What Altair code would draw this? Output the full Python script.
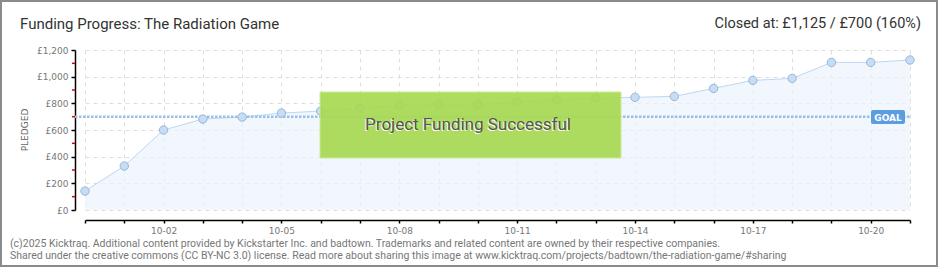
import json
import altair as alt
import pandas as pd

# ---------------- data ----------------
dates = ["09-30", "10-01", "10-02", "10-03", "10-04", "10-05", "10-06", "10-07",
         "10-08", "10-09", "10-10", "10-11", "10-12", "10-13", "10-14", "10-15",
         "10-16", "10-17", "10-18", "10-19", "10-20", "10-21"]
pledged = [142, 330, 600, 682, 697, 727, 742, 762, 785, 790, 788, 810,
           825, 840, 845, 852, 912, 972, 987, 1107, 1107, 1125]
goal = 700
x_labels = ["10-02", "10-05", "10-08", "10-11", "10-14", "10-17", "10-20"]
y_ticks = [0, 200, 400, 600, 800, 1000, 1200]
y_minor = [100, 300, 500, 700, 900, 1100]

title_left = "Funding Progress: The Radiation Game"
title_right = "Closed at:  £1,125 /  £700 (160%)"
axis_title = "PLEDGED"
success_text = "Project Funding Successful"
goal_text = "GOAL"
footer1 = ("(c)2025 Kicktraq. Additional content provided by Kickstarter Inc. and badtown. "
           "Trademarks and related content are owned by their respective companies.")
footer2 = ("Shared under the creative commons (CC BY-NC 3.0) license. Read more about sharing "
           "this image at www.kicktraq.com/projects/badtown/the-radiation-game/#sharing")

df = pd.DataFrame({"date": dates, "pledged": pledged})

W, H = 825, 160
FONT = "Roboto"

x_axis = alt.Axis(
    title=None,
    labelExpr="indexof(" + json.dumps(x_labels) + ", datum.value) >= 0 ? datum.value : ''",
    labelAngle=0,
    labelOverlap=False,
    offset=10,
    tickSize=3,
    tickColor="#000",
    tickWidth=1.5,
    domainColor="#000",
    domainWidth=1.5,
    labelColor="#777",
    labelFontSize=9,
    labelFont="DejaVu Sans",
    labelPadding=3,
    grid=True,
    gridDash=[4, 4],
    gridColor="#dedede",
)
y_axis = alt.Axis(
    title=None,
    values=y_ticks,
    tickCount=7,
    labelExpr="'£' + format(datum.value, ',')",
    labelOverlap=False,
    offset=10,
    tickSize=4,
    tickColor="#000",
    tickWidth=1.5,
    domainColor="#000",
    domainWidth=1.5,
    labelColor="#777",
    labelFontSize=9,
    labelFont="DejaVu Sans",
    labelPadding=3,
    grid=True,
    gridDash=[4, 4],
    gridColor="#dedede",
)
x_scale = alt.Scale(type="point", padding=0, domain=dates)
y_scale = alt.Scale(domain=[0, 1200], nice=False)

base = alt.Chart(df)

area = base.mark_area(color="#edf4fc", line={"color": "#bcd7f3", "strokeWidth": 1}).encode(
    x=alt.X("date:O", scale=x_scale, axis=x_axis),
    y=alt.Y("pledged:Q", scale=y_scale, axis=y_axis),
)

goal_line = alt.Chart(pd.DataFrame({"goal": [goal]})).mark_rule(
    color="#9cbfe8", strokeWidth=2.5, strokeDash=[2.5, 1.5]
).encode(y=alt.Y("goal:Q", scale=y_scale, axis=y_axis), x=alt.value(-10), x2=alt.value(W))

points = base.mark_circle(size=70, color="#c6ddf6", stroke="#98b5d4", strokeWidth=1, opacity=1).encode(
    x=alt.X("date:O", scale=x_scale, axis=x_axis),
    y=alt.Y("pledged:Q", scale=y_scale, axis=y_axis),
)

minor = alt.Chart(pd.DataFrame({"v": y_minor})).mark_rule(color="#e00000", strokeWidth=1.5).encode(
    y=alt.Y("v:Q", scale=y_scale, axis=y_axis), x=alt.value(-13), x2=alt.value(-10)
)

one = lambda s: alt.Chart(pd.DataFrame({"t": [s]}))

green = one("").mark_rect(color="#a6d94e", opacity=0.9, stroke="#c6ea8a", strokeWidth=1).encode(
    x=alt.value(235), x2=alt.value(536), y=alt.value(42), y2=alt.value(108)
)
succ_shadow = one(success_text).mark_text(font=FONT, fontSize=17, color="#ffffff").encode(
    text="t:N", x=alt.value(382), y=alt.value(76)
)
succ = one(success_text).mark_text(font=FONT, fontSize=17, color="#555555").encode(
    text="t:N", x=alt.value(383), y=alt.value(75)
)

goal_box = one("").mark_rect(color="#5c9de2", cornerRadius=2).encode(
    x=alt.value(786), x2=alt.value(820), y=alt.value(60), y2=alt.value(74)
)
goal_lbl = one(goal_text).mark_text(font="DejaVu Sans", fontSize=9, fontWeight="bold", color="#ffffff").encode(
    text="t:N", x=alt.value(803), y=alt.value(67.5)
)

t_left = one(title_left).mark_text(font=FONT, fontSize=15, color="#333333", align="left", baseline="middle").encode(
    text="t:N", x=alt.value(-65), y=alt.value(-26)
)
t_right = one(title_right).mark_text(font=FONT, fontSize=14.5, color="#333333", align="right", baseline="middle").encode(
    text="t:N", x=alt.value(836), y=alt.value(-26)
)
y_title = one(axis_title).mark_text(font="DejaVu Sans", fontSize=9, color="#666666", angle=270, baseline="middle").encode(
    text="t:N", x=alt.value(-60), y=alt.value(80)
)
f1 = one(footer1).mark_text(font=FONT, fontSize=10.5, color="#777777", align="left", baseline="middle").encode(
    text="t:N", x=alt.value(-75), y=alt.value(194)
)
f2 = one(footer2).mark_text(font=FONT, fontSize=10.5, color="#777777", align="left", baseline="middle").encode(
    text="t:N", x=alt.value(-75), y=alt.value(205.5)
)
border = one("").mark_rect(fill=None, stroke="#8a8a8a", strokeWidth=2).encode(
    x=alt.value(-84), x2=alt.value(852), y=alt.value(-49), y2=alt.value(216)
)

chart = alt.layer(
    area, goal_line, points, minor, green, succ_shadow, succ, goal_box, goal_lbl,
    t_left, t_right, y_title, f1, f2, border
).properties(
    width=W, height=H,
    autosize=alt.AutoSizeParams(type="none"),
    padding={"left": 85, "top": 50, "right": 30, "bottom": 60},
    background="#ffffff",
).configure_view(strokeWidth=0)

chart.save("out.html", embed_options={"renderer": "svg", "actions": False})
